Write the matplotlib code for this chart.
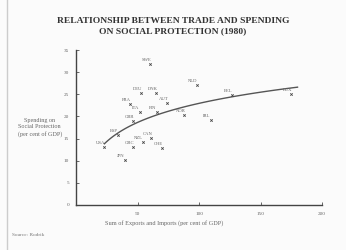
import numpy as np
import matplotlib
matplotlib.use('Agg')
import matplotlib.pyplot as plt
from matplotlib.lines import Line2D

# openness (exports + imports, % of GDP) vs social protection spending (% of GDP), 1980
countries = ['SWE', 'NLD', 'DEU', 'DNK', 'AUT', 'FRA', 'ITA', 'FIN', 'NOR', 'IRL',
             'GBR', 'ESP', 'USA', 'CAN', 'NZL', 'GRC', 'CHE', 'JPN', 'BEL', 'LUX']
trade = [60, 98, 53, 65, 74, 44, 52, 66, 88, 110,
         46, 34, 23, 61, 54, 46, 70, 40, 127, 175]
spending = [31.8, 27.1, 25.3, 25.3, 23.0, 22.8, 21.0, 21.0, 20.3, 19.2,
            19.0, 15.8, 13.1, 15.1, 14.2, 13.1, 12.9, 10.2, 24.8, 25.1]

xticks = [50, 100, 150, 200]
yticks = [0, 5, 10, 15, 20, 25, 30, 35]

plt.rcParams['font.family'] = ['Liberation Serif', 'DejaVu Serif']

fig = plt.figure(figsize=(3.46, 2.5), dpi=100)
fig.patch.set_facecolor('#fbfbfb')
ax = fig.add_axes([0.22, 0.18, 0.711, 0.62])
ax.set_facecolor('#fbfbfb')

ink = '#444444'
ax.scatter(trade, spending, s=3, marker='x', color=ink, linewidths=0.6, zorder=3)
for name, x, y in zip(countries, trade, spending):
    ax.annotate(name, (x, y), xytext=(-6, 2), textcoords='offset points',
                fontsize=3.3, color='#666666')

# logarithmic fit through the points
b, a = np.polyfit(np.log(trade), spending, 1)
xs = np.linspace(min(trade), 180, 100)
ax.plot(xs, a + b * np.log(xs), color='#555555', lw=1.0, zorder=2)

ax.set_xlim(0, 200)
ax.set_ylim(0, 35)
ax.set_xticks(xticks)
ax.set_yticks(yticks)
ax.tick_params(direction='in', length=2.5, width=0.7, labelsize=3.8,
               colors='#666666', pad=5)
for s in ['top', 'right']:
    ax.spines[s].set_visible(False)
for s in ['left', 'bottom']:
    ax.spines[s].set_color('#444444')
    ax.spines[s].set_linewidth(1.0)

ax.set_xlabel('Sum of Exports and Imports (per cent of GDP)', fontsize=4.5,
              color='#666666', labelpad=3, x=0.36)
fig.text(0.115, 0.49, 'Spending on\nSocial Protection\n(per cent of GDP)',
         ha='center', va='center', fontsize=4.4, color='#666666', linespacing=1.3)

fig.text(0.5, 0.895, 'RELATIONSHIP BETWEEN TRADE AND SPENDING\nON SOCIAL PROTECTION (1980)',
         ha='center', va='center', fontsize=6.8, fontweight='bold', color='#333333',
         linespacing=1.3)
fig.text(0.035, 0.055, 'Source: Rodrik', fontsize=3.8, color='#777777')

fig.add_artist(Line2D([0.02, 0.02], [0.0, 1.0], color='#cccccc', lw=1.0))

fig.savefig('out.png', dpi=100, facecolor=fig.get_facecolor())
